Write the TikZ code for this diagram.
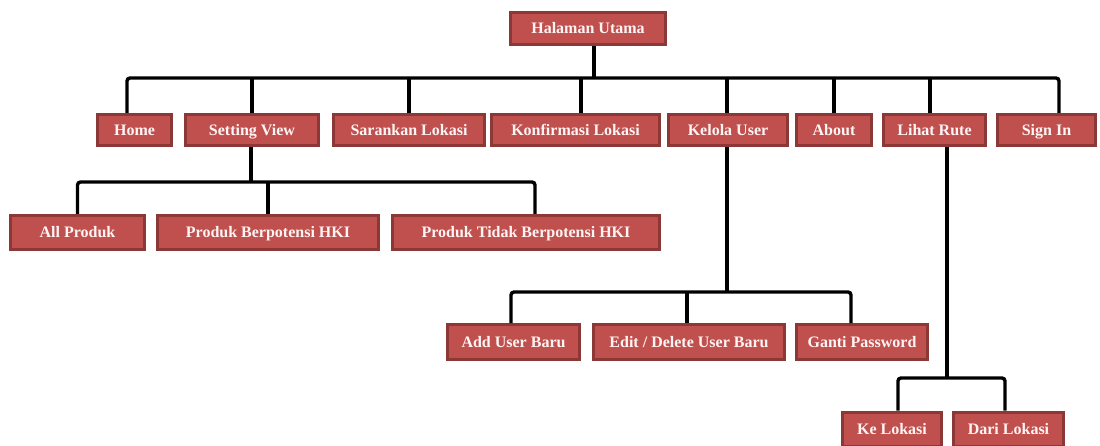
\documentclass[tikz,border=0pt]{standalone}
\usepackage{fontspec}
\setmainfont{Liberation Serif}
\usetikzlibrary{shadows}
\definecolor{boxfill}{HTML}{C0504D}
\definecolor{boxline}{HTML}{8C3836}
\definecolor{boxtext}{HTML}{FFF4F4}
\tikzset{
  box/.style={fill=boxfill, draw=boxline, line width=3pt, text=boxtext,
    font=\fontsize{16}{17}\selectfont\bfseries, inner sep=0pt,
    text height=10.6pt, text depth=0pt,
    drop shadow={opacity=0.25, shadow xshift=1pt, shadow yshift=-1.5pt}},
  conn/.style={draw=black, line width=3.4pt, rounded corners=3pt}
}
\begin{document}
\begin{tikzpicture}[x=1pt,y=-1pt]
\useasboundingbox (0,0) rectangle (1100,446);
% root
\node[box, minimum width=155pt, minimum height=32pt] (root) at (588,28.5) {Halaman Utama};
% level 1
\node[box, minimum width=74pt, minimum height=31pt] (home) at (134.5,130) {Home};
\node[box, minimum width=133pt, minimum height=31pt] (setting) at (252,130) {Setting View};
\node[box, minimum width=151pt, minimum height=31pt] (saran) at (409,130) {Sarankan Lokasi};
\node[box, minimum width=168pt, minimum height=31pt] (konf) at (575.5,130) {Konfirmasi Lokasi};
\node[box, minimum width=119pt, minimum height=31pt] (kelola) at (728,130) {Kelola User};
\node[box, minimum width=75pt, minimum height=31pt] (about) at (834,130) {About};
\node[box, minimum width=102pt, minimum height=31pt] (lihat) at (934.5,130) {Lihat Rute};
\node[box, minimum width=98pt, minimum height=31pt] (signin) at (1046.5,130) {Sign In};
% setting children
\node[box, minimum width=134pt, minimum height=34pt] (allp) at (77.5,232.5) {All Produk};
\node[box, minimum width=221pt, minimum height=34pt] (hki) at (268,232.5) {Produk Berpotensi HKI};
\node[box, minimum width=267pt, minimum height=34pt] (tidak) at (526,232.5) {Produk Tidak Berpotensi HKI};
% kelola children
\node[box, minimum width=132pt, minimum height=35pt] (add) at (513.5,342) {Add User Baru};
\node[box, minimum width=191pt, minimum height=35pt] (edit) at (689,342) {Edit / Delete User Baru};
\node[box, minimum width=131pt, minimum height=35pt] (ganti) at (862,342) {Ganti Password};
% lihat children
\node[box, minimum width=99pt, minimum height=34pt] (ke) at (892,429) {Ke Lokasi};
\node[box, minimum width=110pt, minimum height=34pt] (dari) at (1008.5,429) {Dari Lokasi};

% bus coordinates
\coordinate (bus0) at (594,78);
\coordinate (bus1) at (251,182);
\coordinate (bus2) at (727,292);
\coordinate (bus3) at (947,378);

% root connectors
\draw[conn] ([xshift=6pt]root.south) -- (bus0);
\draw[conn] ([xshift=-7.5pt]home.north) |- (bus0) -| ([xshift=12.5pt]signin.north);
\draw[conn] (setting.north |- bus0) -- (setting.north);
\draw[conn] (saran.north |- bus0) -- (saran.north);
\draw[conn] ([xshift=5.5pt]konf.north |- bus0) -- ([xshift=5.5pt]konf.north);
\draw[conn] ([xshift=-1pt]kelola.north |- bus0) -- ([xshift=-1pt]kelola.north);
\draw[conn] (about.north |- bus0) -- (about.north);
\draw[conn] ([xshift=-4.5pt]lihat.north |- bus0) -- ([xshift=-4.5pt]lihat.north);

% setting children
\draw[conn] ([xshift=-1pt]setting.south) -- (bus1);
\draw[conn] (allp.north) |- (bus1) -| ([xshift=9pt]tidak.north);
\draw[conn] (hki.north |- bus1) -- (hki.north);

% kelola children
\draw[conn] ([xshift=-1pt]kelola.south) -- (bus2);
\draw[conn] ([xshift=-2.5pt]add.north) |- (bus2) -| ([xshift=-11pt]ganti.north);
\draw[conn] ([xshift=-2pt]edit.north |- bus2) -- ([xshift=-2pt]edit.north);

% lihat children
\draw[conn] ([xshift=12.5pt]lihat.south) -- (bus3);
\draw[conn] ([xshift=6pt]ke.north) |- (bus3) -| ([xshift=-3.5pt]dari.north);
\end{tikzpicture}
\end{document}
